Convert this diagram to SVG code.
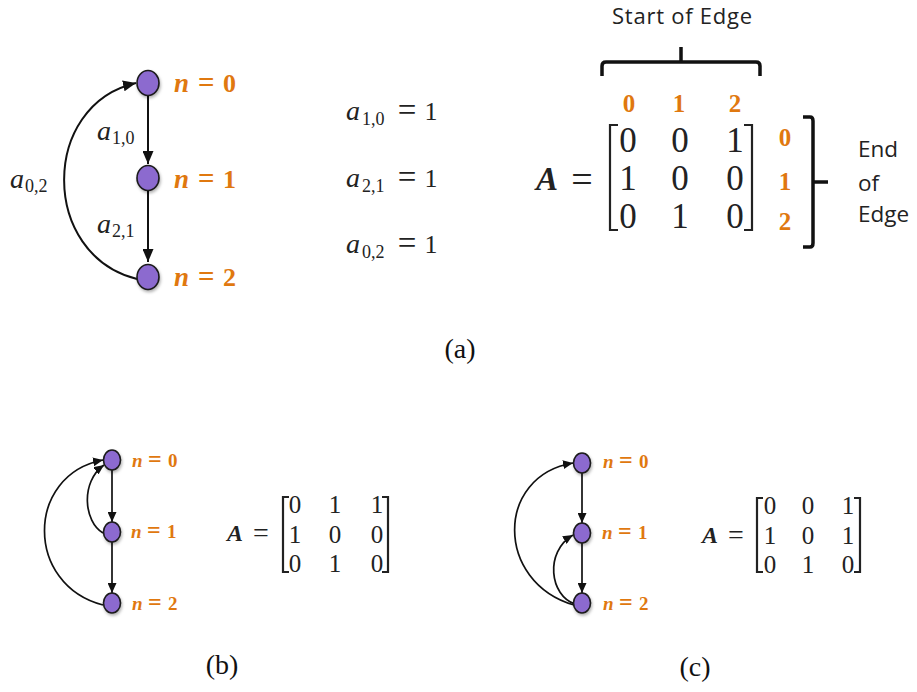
<svg xmlns="http://www.w3.org/2000/svg" width="917" height="692" viewBox="0 0 917 692">
<style>
.node{fill:#8C6BCF;stroke:#1a1a1a;stroke-width:1.6;filter:url(#sh)}
.edge{fill:none;stroke:#111;stroke-width:2}
.edgeS{fill:none;stroke:#111;stroke-width:1.7}
.lab{fill:#E0780F;font-family:"Liberation Serif",serif;font-weight:bold}
.it{font-style:italic}
.m{fill:#222;font-family:"Liberation Serif",serif;text-anchor:middle}
.ai{fill:#222;font-family:"Liberation Serif",serif;font-style:italic}
.sub{fill:#222;font-family:"Liberation Serif",serif}
.brk{fill:none;stroke:#222;stroke-width:2.2}
.brace{fill:none;stroke:#111;stroke-width:3.5}
.cap{fill:#111;font-family:"Liberation Serif",serif;font-size:28px;text-anchor:middle}
.note{fill:#222;font-family:"Open Sans",sans-serif}
.orm{fill:#E0780F;font-family:"Liberation Serif",serif;font-weight:bold;text-anchor:middle;font-size:25px}
.Ab{fill:#222;font-family:"Liberation Serif",serif;font-weight:bold;font-style:italic}
</style>
<defs>
<filter id="sh" x="-50%" y="-50%" width="200%" height="200%"><feDropShadow dx="1" dy="2" stdDeviation="1.5" flood-color="#000" flood-opacity="0.3"/></filter>
<marker id="arrA" markerUnits="userSpaceOnUse" markerWidth="13" markerHeight="11" refX="13" refY="5.5" orient="auto"><path d="M0,0 L13,5.5 L0,11 z" fill="#111"/></marker>
<marker id="arrS" markerUnits="userSpaceOnUse" markerWidth="10" markerHeight="9" refX="10" refY="4.5" orient="auto"><path d="M0,0 L10,4.5 L0,9 z" fill="#111"/></marker>
</defs>
<rect width="917" height="692" fill="#fff"/>

<!-- Panel (a) connectors -->
<g id="connectors-a">
<path class="edge" d="M148,95 V164" marker-end="url(#arrA)"/>
<path class="edge" d="M148,190 V262" marker-end="url(#arrA)"/>
<path class="edge" d="M137,279 C40,255 40,105 136,83" marker-end="url(#arrA)"/>
</g>
<g id="a-n0"><ellipse class="node" cx="148" cy="83" rx="11" ry="12.5"/>
<text class="lab" y="92"><tspan class="it" x="174" font-size="27">n</tspan><tspan x="198" font-size="29">=</tspan><tspan x="223" font-size="26">0</tspan></text></g>
<g id="a-n1"><ellipse class="node" cx="148" cy="178" rx="11" ry="12.5"/>
<text class="lab" y="188"><tspan class="it" x="174" font-size="27">n</tspan><tspan x="198" font-size="29">=</tspan><tspan x="223" font-size="26">1</tspan></text></g>
<g id="a-n2"><ellipse class="node" cx="148" cy="277" rx="11" ry="12.5"/>
<text class="lab" y="286"><tspan class="it" x="174" font-size="27">n</tspan><tspan x="198" font-size="29">=</tspan><tspan x="223" font-size="26">2</tspan></text></g>
<g id="a-edge-labels">
<text class="ai" x="97" y="140" font-size="28">a</text><text class="sub" x="112" y="144" font-size="18">1,0</text>
<text class="ai" x="97" y="233" font-size="28">a</text><text class="sub" x="112" y="237" font-size="18">2,1</text>
<text class="ai" x="10" y="188" font-size="28">a</text><text class="sub" x="25" y="192" font-size="18">0,2</text>
</g>
<g id="a-equations">
<text class="ai" x="346" y="120" font-size="28">a</text><text class="sub" x="362" y="125" font-size="18">1,0</text>
<text class="m" x="407" y="121" font-size="33">=</text><text class="m" x="431" y="120" font-size="26">1</text>
<text class="ai" x="346" y="187" font-size="28">a</text><text class="sub" x="362" y="192" font-size="18">2,1</text>
<text class="m" x="407" y="188" font-size="33">=</text><text class="m" x="431" y="187" font-size="26">1</text>
<text class="ai" x="346" y="253" font-size="28">a</text><text class="sub" x="362" y="258" font-size="18">0,2</text>
<text class="m" x="407" y="254" font-size="33">=</text><text class="m" x="431" y="253" font-size="26">1</text>
</g>
<g id="a-matrix">
<text class="note" x="682" y="24" font-size="22" text-anchor="middle" textLength="140">Start of Edge</text>
<path class="brace" d="M602,76 V66 Q602,62 606,62 H756 Q760,62 760,66 V76 M681,62 V47"/>
<text class="orm" x="629" y="112">0</text><text class="orm" x="679" y="112">1</text><text class="orm" x="735" y="112">2</text>
<text class="Ab" x="536" y="190" font-size="33">A</text>
<text class="m" x="582" y="192" font-size="38">=</text>
<path class="brk" d="M618,125 H610 V230 H618 M744,125 H752 V230 H744"/>
<text class="m" font-size="35" x="628" y="152">0</text><text class="m" font-size="35" x="680" y="152">0</text><text class="m" font-size="35" x="735" y="152">1</text>
<text class="m" font-size="35" x="628" y="190">1</text><text class="m" font-size="35" x="680" y="190">0</text><text class="m" font-size="35" x="735" y="190">0</text>
<text class="m" font-size="35" x="628" y="228">0</text><text class="m" font-size="35" x="680" y="228">1</text><text class="m" font-size="35" x="735" y="228">0</text>
<text class="orm" x="785" y="146">0</text><text class="orm" x="785" y="190">1</text><text class="orm" x="785" y="230">2</text>
<path class="brace" d="M803,117 H810 Q813,117 813,121 V243 Q813,247 810,247 H803 M813,182 H828"/>
<text class="note" x="858" y="157" font-size="22.5">End</text>
<text class="note" x="858" y="191" font-size="22.5">of</text>
<text class="note" x="858" y="222" font-size="22.5">Edge</text>
</g>
<text class="cap" x="460" y="358">(a)</text>

<!-- Panel (b) -->
<g id="connectors-b">
<path class="edgeS" d="M112,470 V522" marker-end="url(#arrS)"/>
<path class="edgeS" d="M112,542 V593" marker-end="url(#arrS)"/>
<path class="edgeS" d="M103,605 C25,585 25,475 103,460" marker-end="url(#arrS)"/>
<path class="edgeS" d="M103,533 C84,522 80,482 104,465" marker-end="url(#arrS)"/>
</g>
<g id="b-n0"><ellipse class="node" cx="112" cy="460" rx="8.5" ry="10"/>
<text class="lab" y="467"><tspan class="it" x="132" font-size="19">n</tspan><tspan x="148" font-size="24">=</tspan><tspan x="168" font-size="19">0</tspan></text></g>
<g id="b-n1"><ellipse class="node" cx="112" cy="532" rx="8.5" ry="10"/>
<text class="lab" y="538"><tspan class="it" x="131" font-size="19">n</tspan><tspan x="147" font-size="24">=</tspan><tspan x="167" font-size="19">1</tspan></text></g>
<g id="b-n2"><ellipse class="node" cx="112" cy="603" rx="8.5" ry="10"/>
<text class="lab" y="610"><tspan class="it" x="132" font-size="19">n</tspan><tspan x="148" font-size="24">=</tspan><tspan x="168" font-size="19">2</tspan></text></g>
<g id="b-matrix">
<text class="Ab" x="227" y="541" font-size="24">A</text>
<text class="m" x="261" y="542" font-size="28">=</text>
<path class="brk" d="M289,497 H283 V572 H289 M382,497 H388 V572 H382" stroke-width="1.8"/>
<text class="m" font-size="25" x="295" y="513">0</text><text class="m" font-size="25" x="335" y="513">1</text><text class="m" font-size="25" x="377" y="513">1</text>
<text class="m" font-size="25" x="295" y="543">1</text><text class="m" font-size="25" x="335" y="543">0</text><text class="m" font-size="25" x="377" y="543">0</text>
<text class="m" font-size="25" x="295" y="572">0</text><text class="m" font-size="25" x="335" y="572">1</text><text class="m" font-size="25" x="377" y="572">0</text>
</g>
<text class="cap" x="222" y="674">(b)</text>

<!-- Panel (c) -->
<g id="connectors-c">
<path class="edgeS" d="M582,473 V523" marker-end="url(#arrS)"/>
<path class="edgeS" d="M582,543 V593" marker-end="url(#arrS)"/>
<path class="edgeS" d="M574,605 C495,582 495,476 573,463" marker-end="url(#arrS)"/>
<path class="edgeS" d="M575,604 C550,596 544,552 573,535" marker-end="url(#arrS)"/>
</g>
<g id="c-n0"><ellipse class="node" cx="582" cy="463" rx="8.5" ry="10"/>
<text class="lab" y="468"><tspan class="it" x="603" font-size="19">n</tspan><tspan x="619" font-size="24">=</tspan><tspan x="639" font-size="19">0</tspan></text></g>
<g id="c-n1"><ellipse class="node" cx="582" cy="533" rx="8.5" ry="10"/>
<text class="lab" y="539"><tspan class="it" x="602" font-size="19">n</tspan><tspan x="618" font-size="24">=</tspan><tspan x="638" font-size="19">1</tspan></text></g>
<g id="c-n2"><ellipse class="node" cx="582" cy="603" rx="8.5" ry="10"/>
<text class="lab" y="610"><tspan class="it" x="603" font-size="19">n</tspan><tspan x="619" font-size="24">=</tspan><tspan x="639" font-size="19">2</tspan></text></g>
<g id="c-matrix">
<text class="Ab" x="702" y="543" font-size="24">A</text>
<text class="m" x="736" y="544" font-size="28">=</text>
<path class="brk" d="M763,498 H757 V572 H763 M854,498 H860 V572 H854" stroke-width="1.8"/>
<text class="m" font-size="25" x="770" y="514">0</text><text class="m" font-size="25" x="808" y="514">0</text><text class="m" font-size="25" x="848" y="514">1</text>
<text class="m" font-size="25" x="770" y="544">1</text><text class="m" font-size="25" x="808" y="544">0</text><text class="m" font-size="25" x="848" y="544">1</text>
<text class="m" font-size="25" x="770" y="573">0</text><text class="m" font-size="25" x="808" y="573">1</text><text class="m" font-size="25" x="848" y="573">0</text>
</g>
<text class="cap" x="695" y="676">(c)</text>
</svg>
